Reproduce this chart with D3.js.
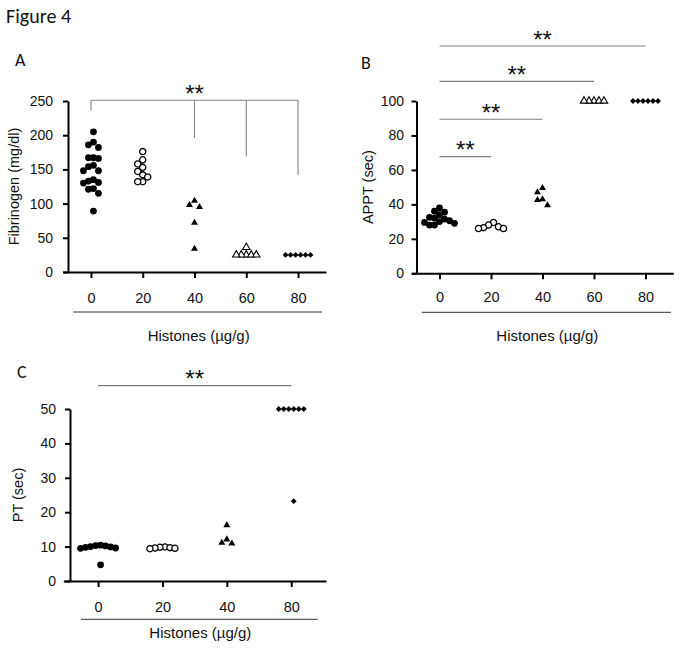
<!DOCTYPE html>
<html><head><meta charset="utf-8">
<script src="https://cdn.jsdelivr.net/npm/d3@7"></script>
<style>body{margin:0;background:#fff}svg{display:block}</style>
</head><body>
<svg id="fig" width="683" height="650"></svg>
<script>
// ---------- data ----------
const figTitle = "Figure 4";
const xTitle = "Histones (µg/g)";

// Panel A: Fibrinogen (mg/dl)
const fibCategories = ["0", "20", "40", "60", "80"];
const fib0  = [205, 190, 186, 182, 167, 167, 166, 156, 154, 148, 148, 135, 133, 131, 130, 122, 121, 115, 89];
const fib20 = [176, 164, 158, 153, 147, 142, 139, 132, 132];
const fib40 = [104, 98, 95, 72, 34];
const fib60 = [36, 25, 25, 25, 25, 25];
const fib80 = [25, 25, 25, 25, 25, 25];
const fibTicks = [0, 50, 100, 150, 200, 250];
const fibBracketLevel = 251;
const fibBracketCats = ["0", "40", "60", "80"];
const fibBracketEnds = [236, 196, 169, 142];

// Panel B: APPT (sec)
const apptCategories = ["0", "20", "40", "60", "80"];
const appt0  = [38, 36, 35.5, 34, 32.5, 32, 31.5, 30.5, 30, 29.5, 29, 28, 28];
const appt20 = [29.5, 28, 27, 26.5, 26, 26];
const appt40 = [49.5, 47, 43, 42.5, 39.5];
const appt60 = [100, 100, 100, 100, 100];
const appt80 = [100, 100, 100, 100, 100, 100];
const apptTicks = [0, 20, 40, 60, 80, 100];
const apptSigTo = ["20", "40", "60", "80"];
const apptSigLevel = [67.7, 89.4, 111.4, 131.9];

// Panel C: PT (sec)
const ptCategories = ["0", "20", "40", "80"];
const pt0  = [10.4, 10.3, 10.2, 10.0, 9.9, 9.8, 9.6, 9.5, 4.7];
const pt20 = [9.9, 9.8, 9.7, 9.6, 9.5, 9.4];
const pt40 = [16.2, 12.1, 11.1, 10.9];
const pt80 = [50, 50, 50, 50, 50, 50, 23.2];
const ptTicks = [0, 10, 20, 30, 40, 50];
const ptSigTo = ["80"];
const ptSigLevel = [56.8];

// ---------- drawing ----------
const svg = d3.select("#fig");
const SANS = "Liberation Sans, Arial, Helvetica, sans-serif";
const CAL = "Carlito, Lato, Open Sans, sans-serif";

svg.append("text").attr("x", 6).attr("y", 23).attr("font-family", CAL)
  .attr("font-size", 20).attr("fill", "#111").text(figTitle);

const markerKinds = {
  fillCircle: g => g.append("circle").attr("r", 3.4).attr("fill", "#000"),
  openCircle: g => g.append("circle").attr("r", 3.1).attr("fill", "#fff").attr("stroke", "#000").attr("stroke-width", 1.3),
  fillTri: g => g.append("path").attr("d", d3.symbol(d3.symbolTriangle, 21)()).attr("fill", "#000"),
  openTri: g => g.append("path").attr("d", d3.symbol(d3.symbolTriangle, 24)()).attr("fill", "#fff").attr("stroke", "#000").attr("stroke-width", 1.1),
  diamond: g => g.append("path").attr("d", d3.symbol(d3.symbolSquare, 17)()).attr("transform", "rotate(45)").attr("fill", "#000")
};

// column-scatter layout: points dodge sideways in steps of `step` px;
// points in the same column need `gapY` px vertical clearance
function swarm(values, cx, y, step, gapY) {
  const pts = values.map(v => ({ v, py: y(v) })).sort((a, b) => a.py - b.py);
  const placed = [];
  for (const p of pts) {
    for (let k = 0; k < 40; k++) {
      const off = k === 0 ? 0 : (k % 2 ? -Math.ceil(k / 2) : Math.ceil(k / 2)) * step;
      const ok = placed.every(q => {
        const dx = (q.off - off) / step, dy = (q.py - p.py) / gapY;
        return dx * dx + dy * dy >= 1 - 1e-6;
      });
      if (ok) { p.off = off; placed.push(p); break; }
    }
  }
  const sh = (d3.min(placed, d => d.off) + d3.max(placed, d => d.off)) / 2;
  placed.forEach(p => { p.px = cx + p.off - sh; });
  return placed;
}

function drawPanel(c) {
  const g = svg.append("g");
  const x = d3.scalePoint().domain(c.categories).range(c.xRange).padding(0.54);
  const y = d3.scaleLinear().domain(c.yDomain).range(c.yRange);

  g.append("text").attr("x", c.letterPos[0]).attr("y", c.letterPos[1])
    .attr("font-family", CAL).attr("font-size", 18).attr("fill", "#111").text(c.letter);

  const ya = g.append("g").attr("transform", `translate(${c.yAxisX},0)`)
    .call(d3.axisLeft(y).tickValues(c.ticks).tickSize(5).tickSizeOuter(0).tickPadding(c.yPad));
  ya.attr("font-family", SANS).attr("font-size", 14);
  ya.select(".domain").attr("stroke", "#000").attr("stroke-width", 2);
  ya.selectAll(".tick line").attr("stroke", "#000").attr("stroke-width", 2);
  ya.selectAll(".tick text").attr("fill", "#111");

  const xa = g.append("g").attr("transform", `translate(0,${y(0)})`)
    .call(d3.axisBottom(x).tickSize(6).tickSizeOuter(0).tickPadding(c.xPad));
  xa.attr("font-family", SANS).attr("font-size", 14.5);
  xa.select(".domain").attr("stroke", "#000").attr("stroke-width", 2);
  xa.selectAll(".tick line").attr("stroke", "#000").attr("stroke-width", 2);
  xa.selectAll(".tick text").attr("fill", "#111");

  g.append("line").attr("x1", c.underline[0]).attr("x2", c.underline[1])
    .attr("y1", c.underline[2]).attr("y2", c.underline[2]).attr("stroke", "#333").attr("stroke-width", 1);
  g.append("text").attr("x", (c.underline[0] + c.underline[1]) / 2 + 1).attr("y", c.titleY)
    .attr("text-anchor", "middle").attr("font-family", SANS).attr("font-size", 15).attr("fill", "#111").text(xTitle);

  const ymid = (c.yRange[0] + c.yRange[1]) / 2;
  g.append("text").attr("transform", `translate(${c.yLabelX},${ymid}) rotate(-90)`)
    .attr("dy", "0.35em").attr("text-anchor", "middle").attr("font-family", SANS)
    .attr("font-size", 14.5).attr("fill", "#111").text(c.yLabel);

  c.series.forEach((vals, i) => {
    const kind = c.kinds[i];
    const pts = swarm(vals, x(c.categories[i]), y, 5, 6.5);
    pts.forEach(p => {
      const m = g.append("g").attr("transform", `translate(${p.px},${p.py})`);
      markerKinds[kind](m);
    });
  });

  const stars = (cx, ly) => g.append("text").attr("x", cx).attr("y", ly + 1.5)
    .attr("text-anchor", "middle").attr("font-family", SANS).attr("font-size", 24)
    .attr("fill", "#111").text("**");
  if (c.bracket) {
    const b = c.bracket, ly = y(b.level);
    const xs = b.cats.map(k => x(k));
    g.append("line").attr("x1", d3.min(xs)).attr("x2", d3.max(xs)).attr("y1", ly).attr("y2", ly)
      .attr("stroke", "#808080").attr("stroke-width", 1.1);
    b.cats.forEach((k, i) => g.append("line").attr("x1", x(k)).attr("x2", x(k))
      .attr("y1", ly).attr("y2", y(b.ends[i])).attr("stroke", "#808080").attr("stroke-width", 1.1));
    stars((d3.min(xs) + d3.max(xs)) / 2, ly);
  }
  if (c.sig) {
    c.sig.to.forEach((k, i) => {
      const ly = y(c.sig.level[i]);
      const x0 = x(c.categories[0]), x1 = x(k);
      g.append("line").attr("x1", x0).attr("x2", x1).attr("y1", ly).attr("y2", ly)
        .attr("stroke", "#808080").attr("stroke-width", 1.1);
      stars((x0 + x1) / 2, ly);
    });
  }
}

drawPanel({
  letter: "A", letterPos: [15, 66],
  categories: fibCategories, series: [fib0, fib20, fib40, fib60, fib80],
  kinds: ["fillCircle", "openCircle", "fillTri", "openTri", "diamond"],
  xRange: [63, 326], yDomain: [0, 250], yRange: [272, 101], yAxisX: 68,
  ticks: fibTicks, yPad: 10, xPad: 15,
  underline: [73.3, 322, 312], titleY: 340.7,
  yLabel: "Fibrinogen (mg/dl)", yLabelX: 13.5,
  bracket: { level: fibBracketLevel, cats: fibBracketCats, ends: fibBracketEnds }
});

drawPanel({
  letter: "B", letterPos: [361, 69],
  categories: apptCategories, series: [appt0, appt20, appt40, appt60, appt80],
  kinds: ["fillCircle", "openCircle", "fillTri", "openTri", "diamond"],
  xRange: [411.7, 673.3], yDomain: [0, 100], yRange: [273.3, 101], yAxisX: 416.5,
  ticks: apptTicks, yPad: 7.5, xPad: 12.5,
  underline: [421.7, 671, 312.3], titleY: 341,
  yLabel: "APPT (sec)", yLabelX: 368.3,
  sig: { to: apptSigTo, level: apptSigLevel }
});

drawPanel({
  letter: "C", letterPos: [17, 378],
  categories: ptCategories, series: [pt0, pt20, pt40, pt80],
  kinds: ["fillCircle", "openCircle", "fillTri", "diamond"],
  xRange: [63.3, 326], yDomain: [0, 50], yRange: [581, 409], yAxisX: 70,
  ticks: ptTicks, yPad: 9, xPad: 14.7,
  underline: [81, 317.7, 619.3], titleY: 638.3,
  yLabel: "PT (sec)", yLabelX: 18.3,
  sig: { to: ptSigTo, level: ptSigLevel }
});
</script>
</body></html>
